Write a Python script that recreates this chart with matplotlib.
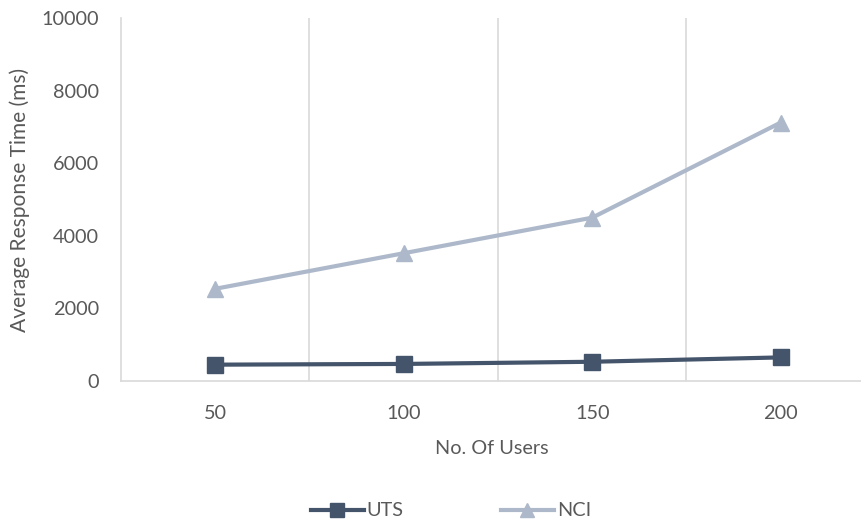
import numpy as np
import matplotlib.pyplot as plt

plt.rcParams['font.family'] = ['Lato', 'DejaVu Sans']

# Antwortzeiten je Nutzeranzahl
users = ["50", "100", "150", "200"]
uts = [450, 470, 530, 650]
nci = [2540, 3520, 4500, 7120]

text_col = "#595959"
grid_col = "#D9D9D9"

fig = plt.figure(figsize=(8.62, 5.23), dpi=100)
ax = fig.add_axes([121 / 862, 142 / 523, 741 / 862, 363 / 523])

x = np.arange(1, len(users) + 1)
ax.plot(x, uts, color="#44546A", lw=3, marker="s", ms=11.5, label="UTS", zorder=3)
ax.plot(x, nci, color="#ADB9CA", lw=3, marker="^", ms=12, label="NCI", zorder=3)

ax.set_xlim(0.5, 0.5 + 741 / 188.5)
ax.set_ylim(0, 10000)
ax.set_yticks(range(0, 10001, 2000))
ax.set_xticks(x)
ax.set_xticklabels(users)

# vertikale Trennlinien zwischen den Kategorien
for b in [1.5, 2.5, 3.5]:
    ax.axvline(b, color=grid_col, lw=1.2, zorder=1)

for s in ["top", "right"]:
    ax.spines[s].set_visible(False)
ax.spines["left"].set_color(grid_col)
ax.spines["bottom"].set_color(grid_col)
ax.spines["left"].set_linewidth(1.2)
ax.spines["bottom"].set_linewidth(1.2)

fs = 14.3
ax.tick_params(length=0, colors=text_col, labelsize=fs)
ax.tick_params(axis="y", pad=16)
ax.tick_params(axis="x", pad=17)

ax.set_xlabel("No. Of Users", color=text_col, fontsize=fs, labelpad=13)
ax.set_ylabel("Average Response Time (ms)", color=text_col, fontsize=fs + 0.8, labelpad=8)

leg = fig.legend(loc="center", bbox_to_anchor=(451 / 862, 1 - 511 / 523), ncol=2,
                 frameon=False, fontsize=fs, handlelength=2.65, columnspacing=4.9,
                 handletextpad=0.15, markerscale=0.85)
for t in leg.get_texts():
    t.set_color(text_col)

fig.savefig("out.png", dpi=100)
